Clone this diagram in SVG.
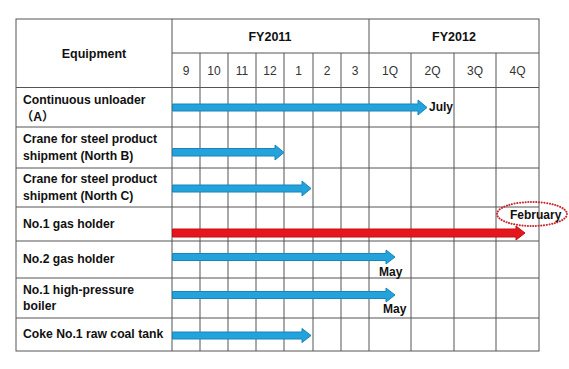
<svg xmlns="http://www.w3.org/2000/svg" width="569" height="369" viewBox="0 0 569 369">
<style>
.grid{stroke:#555;stroke-width:1;fill:none}
.hd{font-family:"Liberation Sans",Arial,sans-serif;font-weight:bold;font-size:12.5px;fill:#111}
.lb{font-family:"Liberation Sans","Noto Sans CJK JP",sans-serif;font-weight:bold;font-size:12.2px;fill:#111}
.mo{font-family:"Liberation Sans",Arial,sans-serif;font-size:12px;fill:#333;text-anchor:middle}
.blue{fill:#22A3DC;stroke:#1B84BA;stroke-width:1}
.red{fill:#E5161C;stroke:#C40F14;stroke-width:1}
.note{font-family:"Liberation Sans",Arial,sans-serif;font-weight:bold;font-size:12px;fill:#111}
</style>
<rect width="569" height="369" fill="#fff"/>
<g id="table" class="grid">
<rect x="16" y="19" width="523" height="332"/>
<line x1="172" y1="19" x2="172" y2="351"/>
<line x1="369" y1="19" x2="369" y2="351"/>
<line x1="172" y1="53" x2="539" y2="53"/>
<line x1="200" y1="53" x2="200" y2="351"/>
<line x1="228" y1="53" x2="228" y2="351"/>
<line x1="256" y1="53" x2="256" y2="351"/>
<line x1="284" y1="53" x2="284" y2="351"/>
<line x1="313" y1="53" x2="313" y2="351"/>
<line x1="341" y1="53" x2="341" y2="351"/>
<line x1="411" y1="53" x2="411" y2="351"/>
<line x1="454" y1="53" x2="454" y2="351"/>
<line x1="496" y1="53" x2="496" y2="351"/>
<line x1="16" y1="87.5" x2="539" y2="87.5"/>
<line x1="16" y1="127" x2="539" y2="127"/>
<line x1="16" y1="168" x2="539" y2="168"/>
<line x1="16" y1="207" x2="539" y2="207"/>
<line x1="16" y1="241" x2="539" y2="241"/>
<line x1="16" y1="278" x2="539" y2="278"/>
<line x1="16" y1="318" x2="539" y2="318"/>
</g>
<g id="headers">
<text class="hd" x="94" y="58" text-anchor="middle">Equipment</text>
<text class="hd" x="270" y="41" text-anchor="middle">FY2011</text>
<text class="hd" x="454" y="41" text-anchor="middle">FY2012</text>
<text class="mo" x="186" y="75">9</text>
<text class="mo" x="214" y="75">10</text>
<text class="mo" x="242" y="75">11</text>
<text class="mo" x="270" y="75">12</text>
<text class="mo" x="298.5" y="75">1</text>
<text class="mo" x="327" y="75">2</text>
<text class="mo" x="355" y="75">3</text>
<text class="mo" x="390" y="75">1Q</text>
<text class="mo" x="432.5" y="75">2Q</text>
<text class="mo" x="475" y="75">3Q</text>
<text class="mo" x="517.5" y="75">4Q</text>
</g>
<g id="row1">
<text class="lb" x="23" y="104">Continuous  unloader</text>
<text class="lb" x="21" y="121">（A）</text>
</g>
<g id="row2">
<text class="lb" x="23" y="143">Crane for steel product</text>
<text class="lb" x="23" y="160">shipment (North B)</text>
</g>
<g id="row3">
<text class="lb" x="23" y="183">Crane for steel product</text>
<text class="lb" x="23" y="200">shipment (North C)</text>
</g>
<g id="row4">
<text class="lb" x="23" y="228">No.1 gas holder</text>
</g>
<g id="row5">
<text class="lb" x="23" y="263">No.2 gas holder</text>
</g>
<g id="row6">
<text class="lb" x="23" y="294">No.1 high-pressure</text>
<text class="lb" x="23" y="310">boiler</text>
</g>
<g id="row7">
<text class="lb" x="23" y="338">Coke No.1 raw coal tank</text>
</g>
<g id="connectors">
<polygon class="blue" points="172.5,104 418,104 418,100 427,107.5 418,115 418,111 172.5,111"/>
<polygon class="blue" points="172.5,148.5 275,148.5 275,145 284,152.5 275,160 275,156 172.5,156"/>
<polygon class="blue" points="172.5,185 302,185 302,181 311,188.5 302,196 302,192 172.5,192"/>
<polygon class="red" points="172.5,229 516,229 516,226 525,233 516,240 516,237 172.5,237"/>
<polygon class="blue" points="172.5,253.5 386,253.5 386,250 395,257 386,264 386,260.5 172.5,260.5"/>
<polygon class="blue" points="172.5,291.5 386,291.5 386,288 395,295 386,302 386,298.5 172.5,298.5"/>
<polygon class="blue" points="172.5,332 302,332 302,328.5 311,335.5 302,342.5 302,339 172.5,339"/>
</g>
<g id="notes">
<text class="note" x="429" y="111">July</text>
<ellipse cx="532" cy="214" rx="35" ry="12" fill="none" stroke="#C8282E" stroke-width="2" stroke-dasharray="0.1,2.6" stroke-linecap="round"/>
<text class="note" x="510" y="219">February</text>
<text class="note" x="379" y="276">May</text>
<text class="note" x="383" y="313">May</text>
</g>
</svg>
